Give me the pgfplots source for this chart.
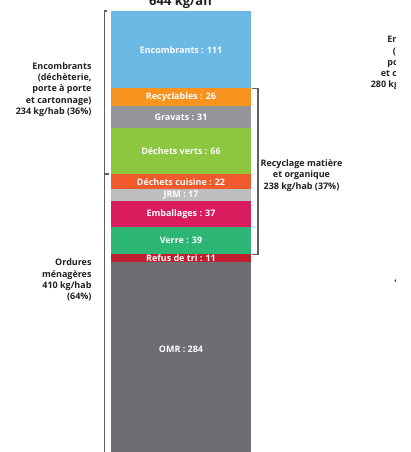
\documentclass[border=0pt]{standalone}
\usepackage{pgfplots}
\pgfplotsset{compat=1.18}
\usepackage{fontspec}
\setmainfont{Open Sans}

\definecolor{cEnc}{HTML}{6CB9E6}
\definecolor{cRec}{HTML}{F7931E}
\definecolor{cGra}{HTML}{939598}
\definecolor{cVer}{HTML}{8DC63F}
\definecolor{cCui}{HTML}{F15A2B}
\definecolor{cJrm}{HTML}{BCBEC0}
\definecolor{cEmb}{HTML}{DA1B5D}
\definecolor{cVerre}{HTML}{2DB673}
\definecolor{cRef}{HTML}{BE1E2D}
\definecolor{cOmr}{HTML}{6D6E71}
\definecolor{txt}{HTML}{231F20}
\definecolor{brk}{HTML}{5E5E5E}

\pgfplotsset{
  frame/.style={at={(0,0)}, anchor=south west, scale only axis,
    width=411bp, height=452bp, xmin=0, xmax=411, ymin=11.3, ymax=659.8,
    hide axis, clip=false},
}
\newcommand{\lab}{\bfseries\fontsize{9}{11.3}\selectfont}

\begin{document}
\begin{tikzpicture}
\begin{scope}
\clip (0,0) rectangle (395bp,452bp);
\begin{axis}[frame, ybar stacked, bar width=140]
  % bottom to top, kg/hab
  \addplot[fill=cOmr, draw=none] coordinates {(181,284)};
  \addplot[fill=cRef, draw=none] coordinates {(181,11)};
  \addplot[fill=cVerre, draw=none] coordinates {(181,39)};
  \addplot[fill=cEmb, draw=none] coordinates {(181,37)};
  \addplot[fill=cJrm, draw=none] coordinates {(181,17)};
  \addplot[fill=cCui, draw=none] coordinates {(181,22)};
  \addplot[fill=cVer, draw=none] coordinates {(181,66)};
  \addplot[fill=cGra, draw=none] coordinates {(181,31)};
  \addplot[fill=cRec, draw=none] coordinates {(181,26)};
  \addplot[fill=cEnc, draw=none] coordinates {(181,111)};

  % brackets
  \draw[brk, line width=1.4bp] (axis cs:107,644) -- (axis cs:104.5,644) -- (axis cs:104.5,0);
  \draw[brk, line width=1.4bp] (axis cs:104.5,410) -- (axis cs:109,410);
  \draw[brk, line width=1.4bp] (axis cs:252,533) -- (axis cs:258,533) -- (axis cs:258,295) -- (axis cs:252,295);

  \node[anchor=base, txt, font=\bfseries\fontsize{13}{15}\selectfont] at (axis cs:180.5,652.6) {644 kg/an};
  \node[anchor=east, align=right, txt, font=\lab] at (axis cs:95,531.4)
    {Encombrants\\(déchèterie,\\porte à porte\\et cartonnage)\\234 kg/hab (36\%)};
  \node[anchor=east, align=right, txt, font=\lab] at (axis cs:95,258)
    {Ordures\\ménagères\\410 kg/hab\\(64\%)};
  \node[align=center, txt, font=\lab] at (axis cs:301.5,408)
    {Recyclage matière\\et organique\\238 kg/hab (37\%)};
  % next chart, cut off at the edge
  \node[anchor=east, align=right, txt, font=\lab] at (axis cs:450,569.4)
    {Encombrants\\(déchèterie,\\porte à porte\\et cartonnage)\\280 kg/hab (43\%)};
  \node[anchor=west, txt, font=\lab] at (axis cs:391,257.5) {4};
\end{axis}
\begin{axis}[frame]
  \addplot[draw=none, nodes near coords, point meta=explicit symbolic,
    every node near coord/.append style={anchor=center, white, font=\lab}]
    coordinates {
      (181,158) [OMR : 284]
      (181,290) [Refus de tri : 11]
      (181,314.5) [Verre : 39]
      (181,352.5) [Emballages : 37]
      (181,379.5) [JRM : 17]
      (181,399) [Déchets cuisine : 22]
      (181,443) [Déchets verts : 66]
      (181,491.5) [Gravats : 31]
      (181,520) [Recyclables : 26]
      (181,588.5) [Encombrants : 111]
    };
\end{axis}
\end{scope}
\pgfresetboundingbox
\path[use as bounding box] (0,0) rectangle (411bp,452bp);
\end{tikzpicture}
\end{document}
